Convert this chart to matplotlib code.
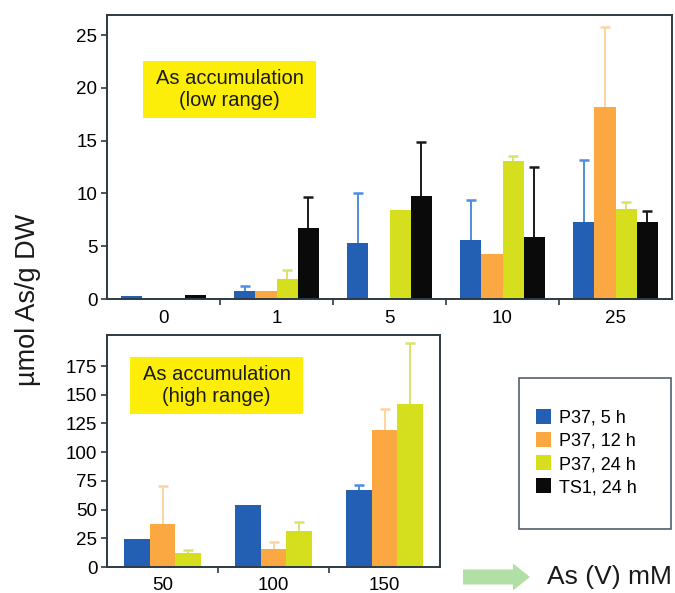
import numpy as np
import matplotlib
matplotlib.use("Agg")
import matplotlib.pyplot as plt
from matplotlib.patches import Rectangle, FancyArrow, Patch

plt.rcParams['font.family'] = ['Liberation Sans', 'DejaVu Sans']

# ---------------- data ----------------
low_cats = ["0", "1", "5", "10", "25"]
high_cats = ["50", "100", "150"]
series = ["P37, 5 h", "P37, 12 h", "P37, 24 h", "TS1, 24 h"]

low_p37_5h = [0.25, 0.75, 5.3, 5.6, 7.3]
low_p37_5h_err = [np.nan, 0.45, 4.7, 3.8, 5.9]
low_p37_12h = [0.0, 0.8, 0.0, 4.3, 18.2]
low_p37_12h_err = [np.nan, np.nan, np.nan, np.nan, 7.6]
low_p37_24h = [0.0, 1.9, 8.4, 13.1, 8.5]
low_p37_24h_err = [np.nan, 0.8, np.nan, 0.4, 0.7]
low_ts1_24h = [0.4, 6.7, 9.75, 5.9, 7.3]
low_ts1_24h_err = [np.nan, 3.0, 5.15, 6.6, 1.0]

high_p37_5h = [24.0, 54.0, 67.3]
high_p37_5h_err = [np.nan, np.nan, 4.4]
high_p37_12h = [37.7, 16.0, 119.6]
high_p37_12h_err = [33.0, 5.5, 18.0]
high_p37_24h = [12.5, 31.0, 142.0]
high_p37_24h_err = [2.0, 8.5, 53.0]

low_ticks = [0, 5, 10, 15, 20, 25]
high_ticks = [0, 25, 50, 75, 100, 125, 150, 175]

# ---------------- style ----------------
colors = ["#2360b3", "#fba843", "#d5df1e", "#0a0a0a"]
err_colors = ["#4c8fe0", "#fdd49e", "#dbe26a", "#1a1a1a"]
spine_col = "#2c3a44"
yellow = "#fdee0a"

W, H = 675, 593
fig = plt.figure(figsize=(W / 100, H / 100), dpi=100)


def fax(x0, y0, x1, y1):
    return fig.add_axes([x0 / W, 1 - y1 / H, (x1 - x0) / W, (y1 - y0) / H])


def style_axes(ax, ncat, cats, yticks, ylim, xpad):
    ax.set_xlim(-0.5, ncat - 0.5)
    ax.set_ylim(*ylim)
    ax.set_xticks(range(ncat))
    ax.set_xticklabels(cats, fontsize=13.5)
    ax.set_xticks(np.arange(0.5, ncat - 0.5, 1.0), minor=True)
    ax.tick_params(axis='x', which='major', length=0, pad=xpad)
    ax.tick_params(axis='x', which='minor', length=4, width=1.2, color=spine_col, direction='out')
    ax.set_yticks(yticks)
    ax.set_yticklabels([str(t) for t in yticks], fontsize=13.5)
    ax.tick_params(axis='y', length=4, width=1.2, color=spine_col, pad=3)
    for s in ax.spines.values():
        s.set_color(spine_col)
        s.set_linewidth(1.4)


def draw_group(ax, vals_list, errs_list, width, offsets):
    for k, (vals, errs) in enumerate(zip(vals_list, errs_list)):
        x = np.arange(len(vals)) + offsets[k] * width
        ax.bar(x, vals, width=width, color=colors[k], edgecolor='none', zorder=2)
        errs = np.asarray(errs, dtype=float)
        vals = np.asarray(vals, dtype=float)
        m = ~np.isnan(errs)
        if m.any():
            tops = vals[m] + errs[m]
            ax.vlines(x[m], vals[m], tops, colors=err_colors[k], linewidth=1.4, zorder=1)
            ax.plot(x[m], tops, linestyle='none', marker='_', markersize=7,
                    markeredgewidth=1.8, color=err_colors[k], zorder=1)


# ---------------- top (low range) ----------------
ax1 = fax(107, 15, 672, 299)
w1 = 0.1875
draw_group(ax1,
           [low_p37_5h, low_p37_12h, low_p37_24h, low_ts1_24h],
           [low_p37_5h_err, low_p37_12h_err, low_p37_24h_err, low_ts1_24h_err],
           w1, [-1.5, -0.5, 0.5, 1.5])
style_axes(ax1, len(low_cats), low_cats, low_ticks, (0, 26.9), 8)

# ---------------- bottom (high range) ----------------
ax2 = fax(107, 335, 440, 567)
w2 = 0.232
draw_group(ax2,
           [high_p37_5h, high_p37_12h, high_p37_24h],
           [high_p37_5h_err, high_p37_12h_err, high_p37_24h_err],
           w2, [-1, 0, 1])
style_axes(ax2, len(high_cats), high_cats, high_ticks, (0, 202), 7)

# ---------------- yellow labels ----------------
def yellow_box(x0, y0, x1, y1, txt):
    fig.patches.append(Rectangle((x0 / W, 1 - y1 / H), (x1 - x0) / W, (y1 - y0) / H,
                                 transform=fig.transFigure, facecolor=yellow,
                                 edgecolor='none', zorder=5))
    fig.text((x0 + x1) / 2 / W, 1 - (y0 + y1) / 2 / H, txt, ha='center', va='center',
             fontsize=14.5, color='#1a1a1a', linespacing=1.15, zorder=6)

yellow_box(143, 61, 316, 118, "As accumulation\n(low range)")
yellow_box(130, 357, 303, 414, "As accumulation\n(high range)")

# ---------------- y label ----------------
fig.text(28 / W, 1 - 300 / H, "µmol As/g DW", rotation=90, ha='center', va='center',
         fontsize=19.5, color='#1a1a1a')

# ---------------- legend ----------------
fig.patches.append(Rectangle((519 / W, 1 - 529 / H), (671 - 519) / W, (529 - 378) / H,
                             transform=fig.transFigure, facecolor='white',
                             edgecolor='#55606a', linewidth=1.2, zorder=3))
handles = [Patch(facecolor=c, edgecolor='none') for c in colors]
leg = fig.legend(handles, series, loc='upper left', bbox_to_anchor=(536 / W, 1 - 409 / H),
                 frameon=False, fontsize=13, handlelength=0.85, handleheight=0.9,
                 handletextpad=0.45, labelspacing=0.3, borderpad=0, borderaxespad=0)
leg.set_zorder(4)

# ---------------- arrow + axis caption ----------------
fig.patches.append(FancyArrow(463 / W, 1 - 577 / H, (530 - 463 - 17) / W, 0,
                              width=15 / H, head_width=27 / H, head_length=17 / W,
                              length_includes_head=False, transform=fig.transFigure,
                              facecolor="#b2dfa6", edgecolor='none'))
fig.text(547 / W, 1 - 577 / H, "As (V) mM", ha='left', va='center', fontsize=19,
         color='#1a1a1a')

fig.savefig("out.png", dpi=100)
